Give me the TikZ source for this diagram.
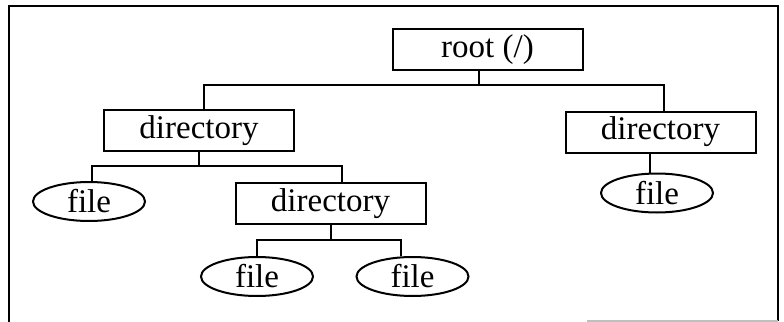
\documentclass[tikz,border=0pt]{standalone}
\usepackage{fontspec}
\setmainfont{Liberation Serif}
\usepackage{tikz}
\usetikzlibrary{shapes,positioning,calc}
\tikzset{
  dirbox/.style={rectangle, draw=black, line width=1pt, minimum width=95pt,
                 minimum height=20.5pt, inner sep=0pt, text centered,
                 font=\fontsize{16.5}{19}\selectfont},
  filenode/.style={ellipse, draw=black, line width=1pt, minimum width=56pt,
                   minimum height=19.5pt, inner sep=0pt, text centered,
                   font=\fontsize{16.5}{19}\selectfont},
  link/.style={draw, line width=0.9pt},
  frame/.style={draw, line width=1.2pt}
}

\begin{document}
\begin{tikzpicture}[x=0.5pt,y=-0.5pt]
\useasboundingbox (0,0) rectangle (784,322);
% outer frame
\draw [frame] (9,322) |- (778,6) -- (778,321);
\draw [gray!50, line width=0.8pt] (587,321) -- (778,321);
% nodes
\node[dirbox] (root) at (487.5,49.5) {root (/)};
\node[dirbox] (dirL) at (199,130.5) {directory};
\node[dirbox] (dirR) at (660.5,132) {directory};
\node[dirbox] (dirM) at (330.5,203.5) {directory};
\node[filenode] (fileA) at (89,201.5) {file};
\node[filenode] (fileB) at (257,276.5) {file};
\node[filenode] (fileC) at (412.5,276.5) {file};
\node[filenode] (fileD) at (657,193) {file};
% tree lines
\draw [link] ([xshift=-4.25pt]root.south) -- ++(0,14) coordinate (bar0);
\draw [link] ([xshift=2.5pt]dirL.north) |- (bar0) -| ([xshift=1.75pt]dirR.north);
\draw [link] (dirL.south) -- ++(0,14) coordinate (bar1);
\draw [link] ([xshift=1.5pt]fileA.north) |- (bar1) -| ([xshift=5.75pt]dirM.north);
\draw [link] ([xshift=0.25pt]dirM.south) -- ++(0,15) coordinate (bar2);
\draw [link] (fileB.north) |- (bar2) -| ([xshift=-5.75pt]fileC.north);
\draw [link] ([xshift=-5.25pt]dirR.south) -- ([xshift=-3.5pt]fileD.north);
\end{tikzpicture}
\end{document}
